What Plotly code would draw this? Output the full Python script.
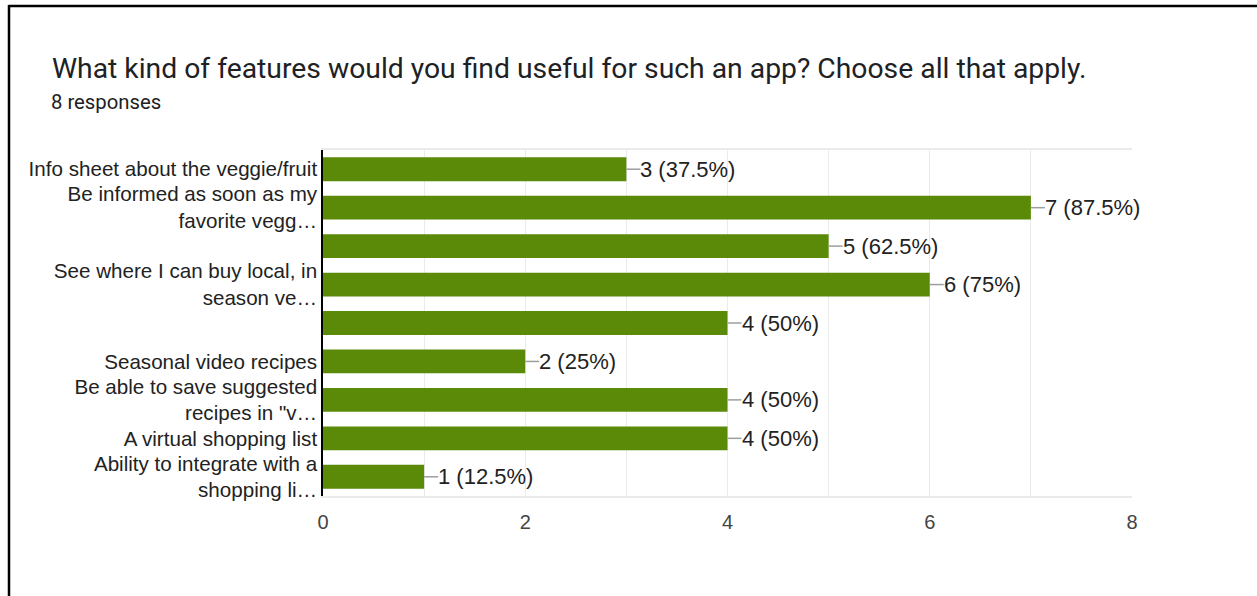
import plotly.graph_objects as go

# Survey question and responses
question = "What kind of features would you find useful for such an app? Choose all that apply."
responses_note = "8 responses"
total_responses = 8

features = [
    "Info sheet about the veggie/fruit",
    "Be informed as soon as my<br>favorite vegg…",
    "",
    "See where I can buy local, in<br>season ve…",
    " ",
    "Seasonal video recipes",
    "Be able to save suggested<br>recipes in \"v…",
    "A virtual shopping list",
    "Ability to integrate with a<br>shopping li…",
]
counts = [3, 7, 5, 6, 4, 2, 4, 4, 1]
x_ticks = [0, 2, 4, 6, 8]

bar_color = "#5a8a08"
W, H = 1257, 596
L, R, T, B = 323, 125, 150, 100
plot_w = W - L - R
plot_h = H - T - B
x_max = 8
px_per_unit = plot_w / x_max
leader = 14 / px_per_unit  # leader line length in data units

# unique category ids so the two blank labels stay separate rows
cat_ids = list(range(len(features)))

fig = go.Figure()
fig.add_trace(go.Bar(
    y=cat_ids,
    x=counts,
    orientation="h",
    marker=dict(color=bar_color, line=dict(width=0)),
    width=0.62,
    hoverinfo="skip",
))

for i, c in zip(cat_ids, counts):
    pct = c / total_responses * 100
    pct_txt = f"{pct:g}%"
    fig.add_shape(type="line", xref="x", yref="y",
                  x0=c, x1=c + leader, y0=i, y1=i,
                  line=dict(color="#9e9e9e", width=1.5))
    fig.add_annotation(xref="x", yref="y", x=c + leader, y=i,
                       text=f"{c} ({pct_txt})", showarrow=False,
                       xanchor="left", yanchor="middle", xshift=-2,
                       font=dict(family="Liberation Sans, Arial", size=22, color="#222222"))

# frame lines along the top and left edges of the page
fig.add_shape(type="line", xref="paper", yref="paper",
              x0=(8.5 - L) / plot_w, x1=(W - L) / plot_w,
              y0=1 + (T - 6) / plot_h, y1=1 + (T - 6) / plot_h,
              line=dict(color="#000000", width=2.5))
fig.add_shape(type="line", xref="paper", yref="paper",
              x0=(9 - L) / plot_w, x1=(9 - L) / plot_w,
              y0=-B / plot_h, y1=1 + (T - 5) / plot_h,
              line=dict(color="#000000", width=2.5))

fig.add_annotation(xref="paper", yref="paper",
                   x=(49 - L) / plot_w, y=1 + (T - 102) / plot_h,
                   text=responses_note, showarrow=False,
                   xanchor="left", yanchor="middle",
                   font=dict(family="Roboto, Arial", size=20.3, color="#202124"))

fig.update_layout(
    width=W, height=H,
    margin=dict(l=L, r=R, t=T, b=B, autoexpand=False),
    paper_bgcolor="white", plot_bgcolor="white",
    showlegend=False,
    title=dict(text=question, xref="container", yref="container",
               x=52 / W, y=1 - 68 / H, xanchor="left", yanchor="middle",
               font=dict(family="Roboto, Arial", size=28.3, color="#202124")),
    xaxis=dict(
        range=[0, x_max],
        tickvals=x_ticks,
        ticktext=[str(t) for t in x_ticks],
        showgrid=False,
        zeroline=False,
        showline=True, mirror=True, linecolor="#ebebeb", linewidth=1.5,
        ticks="", ticklabelstandoff=7,
        tickfont=dict(family="Liberation Sans, Arial", size=20, color="#444444"),
        minor=dict(dtick=1, showgrid=True, gridcolor="#ebebeb", gridwidth=1),
    ),
    yaxis=dict(
        tickmode="array",
        tickvals=cat_ids,
        ticktext=features,
        range=[len(features) - 0.5, -0.5],
        showgrid=False, zeroline=False,
        showline=True, linecolor="#000000", linewidth=1.5,
        ticks="",
        tickfont=dict(family="Liberation Sans, Arial", size=20.6, color="#222222"),
    ),
)

fig.write_html("out.html")
